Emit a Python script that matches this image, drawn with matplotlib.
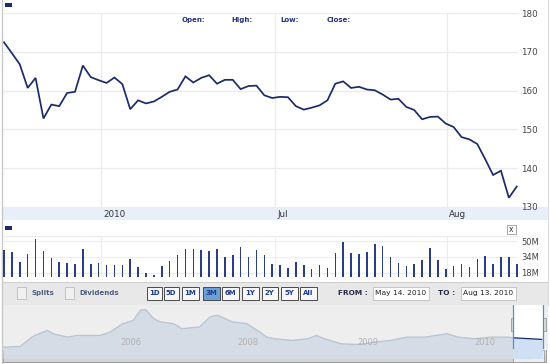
import numpy as np
import matplotlib
matplotlib.use("Agg")
import matplotlib.pyplot as plt
from matplotlib.patches import Rectangle
import matplotlib.transforms as mtransforms

plt.rcParams['font.family'] = ['DejaVu Sans']

# ---------------- data ----------------
close = [172.5, 169.7, 166.8, 160.7, 163.3, 152.8, 156.4, 156.0, 159.4, 159.7,
         166.5, 163.5, 162.7, 162.0, 163.4, 161.7, 155.2, 157.5, 156.7, 157.2,
         158.4, 159.7, 160.3, 163.7, 162.1, 163.3, 164.0, 161.8, 162.8, 162.8,
         160.4, 161.2, 161.3, 158.8, 158.1, 158.4, 158.3, 156.0, 155.1, 155.6,
         156.2, 157.5, 161.8, 162.4, 160.7, 161.0, 160.3, 160.1, 159.0, 157.7,
         157.9, 155.8, 155.0, 152.6, 153.2, 153.3, 151.5, 150.6, 148.0, 147.4,
         146.2, 142.3, 138.2, 139.3, 132.3, 135.2]
volume_m = [41.0, 39.2, 28.9, 36.8, 52.9, 40.2, 33.0, 28.9, 27.8, 26.5,
            41.9, 27.1, 27.8, 25.4, 26.1, 25.4, 31.6, 23.7, 17.8, 15.2,
            24.7, 29.6, 36.4, 41.9, 41.9, 40.9, 40.2, 42.5, 34.0, 36.4,
            44.3, 34.0, 40.9, 36.4, 27.1, 26.1, 22.7, 28.9, 26.1, 22.0,
            26.1, 22.7, 38.1, 49.5, 38.1, 37.4, 39.2, 47.1, 45.3, 34.0,
            28.1, 24.4, 27.1, 30.6, 43.3, 31.2, 21.3, 24.4, 27.1, 23.7,
            32.2, 35.0, 27.1, 34.0, 34.0, 26.8]
x_idx = np.arange(len(close))
month_pos = [12.3, 34.36, 56.16]
month_labels = ["2010", "Jul", "Aug"]
price_ticks = [130, 140, 150, 160, 170, 180]
vol_ticks = [18, 34, 50]
vol_labels = ["18M", "34M", "50M"]

# long-history navigator (year, level)
nav_year = [2005.92, 2006.06, 2006.17, 2006.29, 2006.34, 2006.46, 2006.54, 2006.74,
            2006.82, 2006.93, 2007.02, 2007.08, 2007.12, 2007.14, 2007.19, 2007.25,
            2007.36, 2007.43, 2007.58, 2007.67, 2007.73, 2007.86, 2007.98, 2008.09,
            2008.15, 2008.22, 2008.36, 2008.50, 2008.57, 2008.64, 2008.78, 2008.92,
            2009.06, 2009.20, 2009.34, 2009.49, 2009.68, 2009.77, 2009.91, 2010.05,
            2010.19, 2010.23, 2010.48]
nav_level = [82, 88, 168, 215, 189, 162, 175, 175, 201, 268, 295, 375, 381, 362,
             309, 282, 269, 229, 242, 322, 336, 282, 269, 202, 162, 149, 136, 149,
             175, 149, 109, 104, 122, 136, 162, 162, 189, 162, 149, 162, 162, 157, 144]
nav_label_years = [2007.0, 2007.99, 2009.01, 2010.0]
nav_labels = ["2006", "2008", "2009", "2010"]
win_start, win_end = 2010.24, 2010.49

W, H = 550, 364
fig = plt.figure(figsize=(W / 100, H / 100), dpi=100)

def px(x0, y0, x1, y1):
    return [x0 / W, 1 - y1 / H, (x1 - x0) / W, (y1 - y0) / H]

bg = fig.add_axes([0, 0, 1, 1])
bg.set_xlim(0, W)
bg.set_ylim(H, 0)
bg.axis('off')

def rect(x0, y0, x1, y1, **kw):
    bg.add_patch(Rectangle((x0, y0), x1 - x0, y1 - y0, **kw))

NAVY = '#1b2a6b'
rect(0, 0, W, H, facecolor='white', edgecolor='none')
# frame borders
bg.plot([1.5, 1.5], [0, 364], color='#c8c8c8', lw=1)
bg.plot([548, 548], [0, 305], color='#dddddd', lw=0.8)
# header marker
rect(5, 3, 11.7, 6.5, facecolor=NAVY, edgecolor='none')
for lab, xx in zip(["Open:", "High:", "Low:", "Close:"], [181.5, 231.5, 280, 326.5]):
    bg.text(xx, 20, lab, fontsize=5, fontweight='bold', color='#23347a', va='center', ha='left')
# x band
rect(3, 206.7, 548, 220, facecolor='#e9eff9', edgecolor='none')

# ---------------- main price axes ----------------
ax = fig.add_axes(px(3, 13.3, 518, 206.7))
ax.set_facecolor('none')
ax.plot(x_idx, close, color=NAVY, lw=1.25, solid_joinstyle='miter', zorder=3)
ax.set_xlim(-0.127, 65.16)
ax.set_ylim(130, 180)
ax.set_yticks(price_ticks)
ax.set_xticks(month_pos)
ax.set_xticklabels([])
ax.grid(True, color='#ebebeb', lw=0.9)
ax.yaxis.tick_right()
ax.tick_params(axis='y', length=0, pad=2.5, labelsize=6.3, labelcolor='#444444')
ax.tick_params(axis='x', length=0)
for s in ax.spines.values():
    s.set_visible(False)
for pos, lab in zip(month_pos, month_labels):
    ax.annotate(lab, xy=(pos, 0), xycoords=('data', 'axes fraction'),
                xytext=(1.6, -5.3), textcoords='offset points', ha='left', va='center',
                fontsize=6.3, color='#333333')

# ---------------- volume axes ----------------
rect(5, 226, 11.7, 229.7, facecolor=NAVY, edgecolor='none')
rect(507.3, 225, 515.7, 234, facecolor='white', edgecolor='#999999', lw=0.6)
bg.text(511.5, 229.3, 'x', fontsize=5.5, ha='center', va='center', color='#333333')
vax = fig.add_axes(px(3, 236, 518, 277))
vax.set_facecolor('none')
vax.bar(x_idx, volume_m, width=0.2, color='#2d3c86', zorder=3)
vax.set_xlim(-0.127, 65.16)
vax.set_ylim(13.4, 13.4 + 41 * 1.03)
vax.set_yticks(vol_ticks)
vax.set_yticklabels(vol_labels)
vax.set_xticks(month_pos)
vax.set_xticklabels([])
vax.grid(True, color='#ededed', lw=0.8)
vax.yaxis.tick_right()
vax.tick_params(axis='y', length=0, pad=2.5, labelsize=6.0, labelcolor='#444444')
vax.tick_params(axis='x', length=0)
for s in vax.spines.values():
    s.set_visible(False)
bg.plot([3, 518], [236, 236], color='#ebebeb', lw=0.8)

# ---------------- control bar ----------------
rect(1.5, 282, 548, 305, facecolor='#e8e8e8', edgecolor='none')
bg.plot([1.5, 548], [282, 282], color='#cfcfcf', lw=0.8)
for x0, lab in [(16.5, 'Splits'), (64.5, 'Dividends')]:
    rect(x0, 287, x0 + 9.5, 299, facecolor='#f0f0f0', edgecolor='#bdbdbd', lw=0.6)
    bg.text(x0 + 15, 293, lab, fontsize=5, fontweight='bold', color='#4d5d80', va='center')
buttons = ['1D', '5D', '1M', '3M', '6M', '1Y', '2Y', '5Y', 'All']
bx = [146.5, 163.5, 182, 202.5, 222, 242, 261.5, 281, 300]
bw = [15.5, 15.5, 16.5, 17.5, 16.5, 16.5, 16.5, 16.5, 17]
for b, x0, w in zip(buttons, bx, bw):
    fc = '#6c9fd6' if b == '3M' else '#f7f7f7'
    rect(x0, 286.5, x0 + w, 299.5, facecolor=fc, edgecolor='#4a4a4a', lw=0.7)
    bg.text(x0 + w / 2, 293.2, b, fontsize=5, fontweight='bold', color='#1d3b8f',
            ha='center', va='center')
bg.text(338, 293.2, 'FROM :', fontsize=5.3, fontweight='bold', color='#222a44', va='center')
rect(372.5, 286.5, 429, 300, facecolor='white', edgecolor='#bdbdbd', lw=0.6)
bg.text(400.7, 293.2, 'May 14. 2010', fontsize=5.4, color='#222222', ha='center', va='center')
bg.text(437.5, 293.2, 'TO :', fontsize=5.3, fontweight='bold', color='#222a44', va='center')
rect(460.5, 286.5, 516, 300, facecolor='white', edgecolor='#bdbdbd', lw=0.6)
bg.text(488.2, 293.2, 'Aug 13. 2010', fontsize=5.4, color='#222222', ha='center', va='center')

# ---------------- navigator ----------------
rect(1.5, 305, 548, 350, facecolor='#eeeeee', edgecolor='none')
nax = fig.add_axes(px(3, 305, 546, 348.5))
nax.set_facecolor('none')
x_of = lambda yr: 2010 + (yr - 485) / 118.0
nax.set_xlim(x_of(3), x_of(546))
nax.set_ylim(72, 416)
nax.axis('off')
ny = np.array(nav_year)
nl = np.array(nav_level)
nax.axvspan(win_start, win_end, color='white', zorder=1)
f1 = nax.fill_between(ny, 0, nl, color='#d6dce5', zorder=2)
l1, = nax.plot(ny, nl, color='#b9c3d1', lw=0.9, zorder=3)
clip_out = Rectangle((x_of(0), 0), win_start - x_of(0), 500, transform=nax.transData)
f1.set_clip_path(clip_out)
l1.set_clip_path(clip_out)
f2 = nax.fill_between(ny, 0, nl, color='#cfe0f4', zorder=2)
l2, = nax.plot(ny, nl, color=NAVY, lw=0.9, zorder=3)
clip_in = Rectangle((win_start, 0), win_end - win_start, 500, transform=nax.transData)
f2.set_clip_path(clip_in)
l2.set_clip_path(clip_in)
nax.axvline(win_start, color='#4a90d9', lw=0.9, zorder=4)
nax.axvline(win_end, color='#4a90d9', lw=0.9, zorder=4)
for yr, lab in zip(nav_label_years, nav_labels):
    nax.text(yr, 80, lab, fontsize=6, color='#b0b0b0', ha='center', va='bottom', zorder=5)
# window handles
for hx in [513.5, 543]:
    rect(hx - 2.5, 318, hx + 2.5, 331, facecolor='#d9d9d9', edgecolor='#888888', lw=0.5, zorder=6)

# ---------------- scrollbar ----------------
rect(3, 349.5, 546, 362, facecolor='#d4d4d4', edgecolor='#9a9a9a', lw=0.7)
rect(3.5, 350, 545.5, 355, facecolor='#e2e2e2', edgecolor='none')
rect(513, 350, 543.5, 361.5, facecolor='#ececec', edgecolor='#9a9a9a', lw=0.6)
for gx in [526, 528, 530]:
    bg.plot([gx, gx], [353.5, 358], color='#9a9a9a', lw=0.5)

fig.savefig('out.png', dpi=100)
